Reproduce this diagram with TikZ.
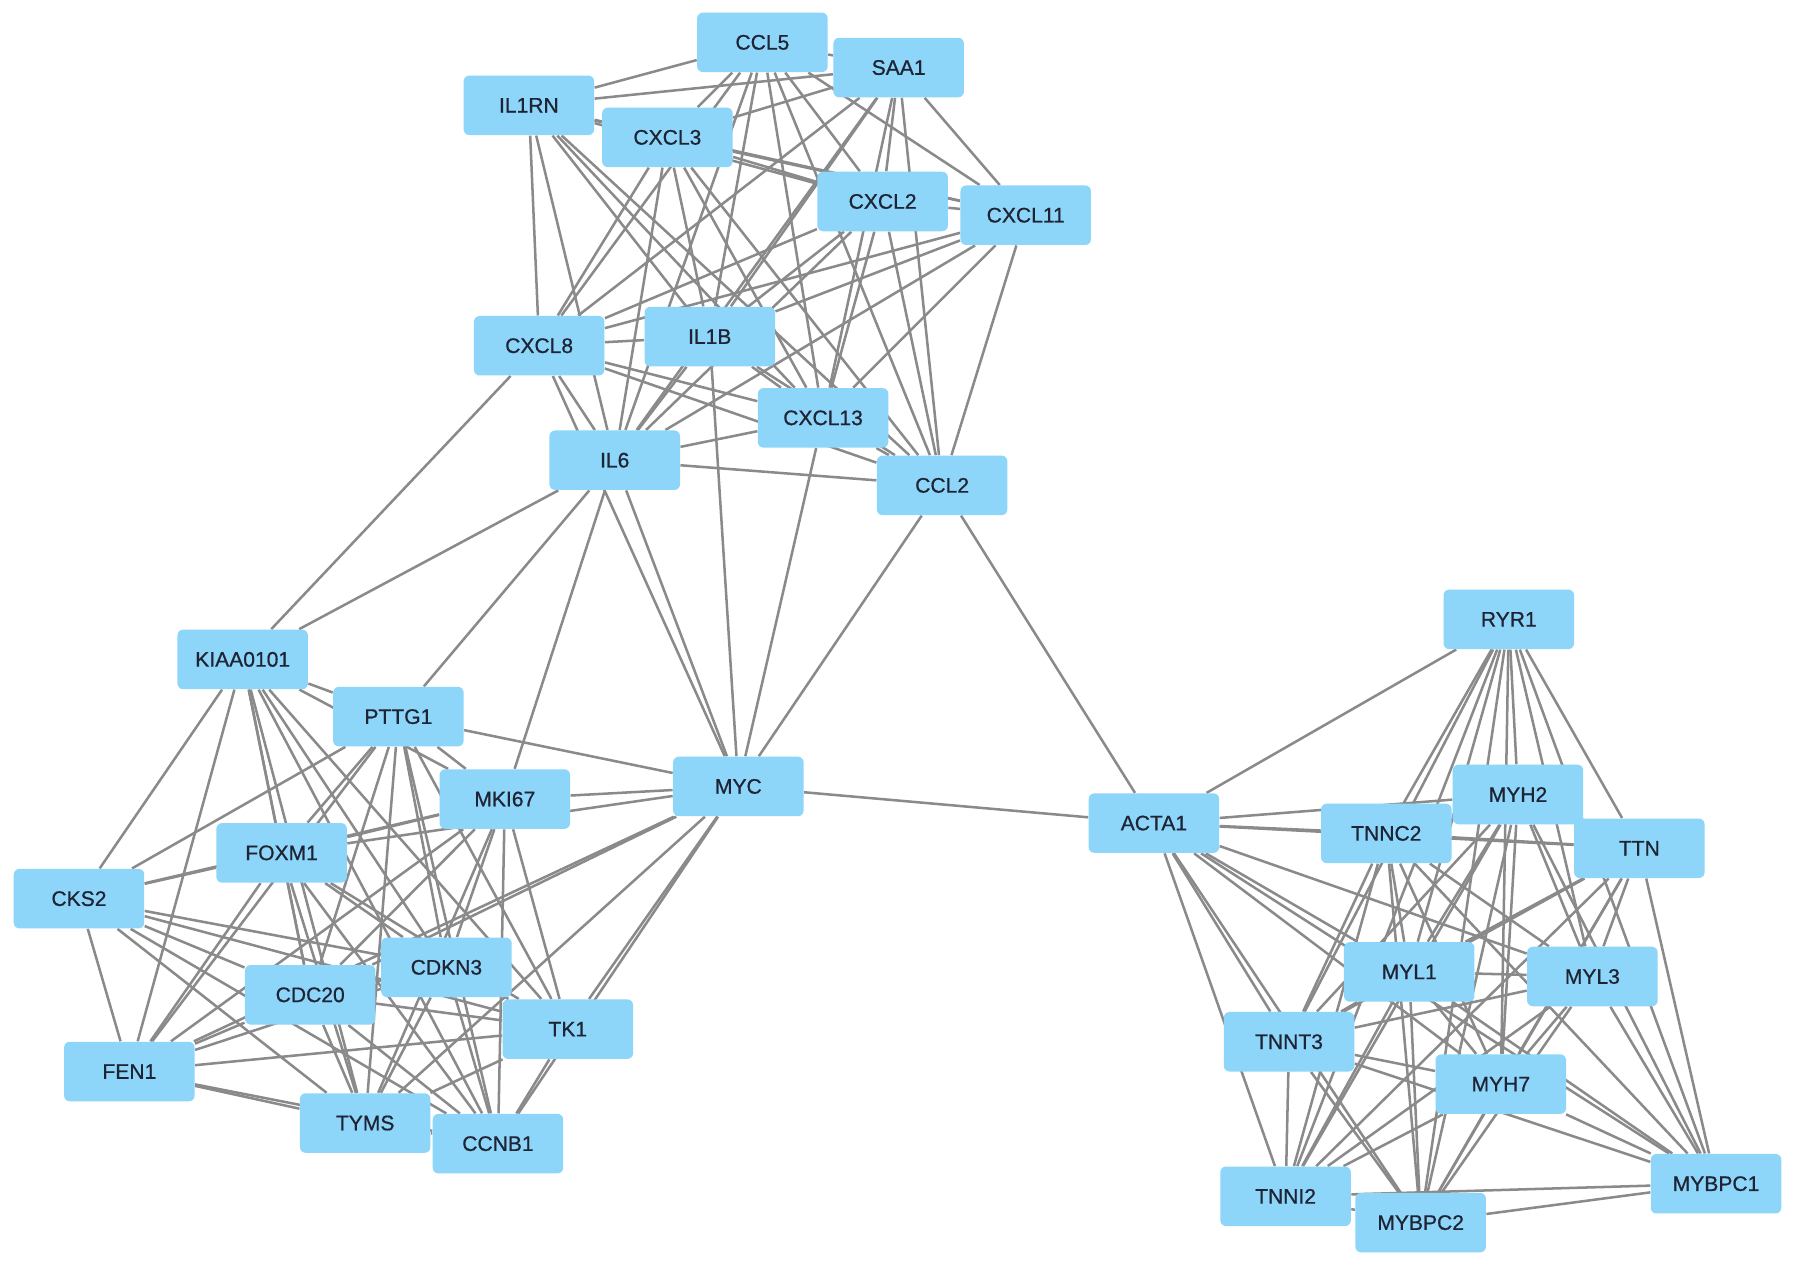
\documentclass[tikz,border=0pt]{standalone}
\usepackage{fontspec}
\newfontfamily\labfont[FakeBold=0.7]{Liberation Sans}
\usetikzlibrary{backgrounds}
\pgfdeclarelayer{edges}
\pgfsetlayers{background,edges,main}
\definecolor{nodeblue}{RGB}{141,213,249}
\definecolor{edgegray}{RGB}{138,138,138}
\definecolor{labtext}{RGB}{30,36,52}
\begin{document}
\begin{tikzpicture}[x=0.5pt,y=-0.5pt,
  gene/.style={rectangle, rounded corners=2.5pt, fill=nodeblue, draw=none,
    minimum width=57pt, minimum height=26pt, inner sep=0pt,
    text=labtext, font=\labfont\fontsize{9.2}{10}\selectfont},
  edge/.style={draw=edgegray, line width=1.1pt}]
\begin{pgfonlayer}{background}
\fill[white] (0,0) rectangle (1568,1109);
\end{pgfonlayer}
\useasboundingbox (0,0) rectangle (1568,1109);
% top cluster
\node[gene] (CCL5) at (666,37) {CCL5};
\node[gene] (SAA1) at (785,59) {SAA1};
\node[gene] (IL1RN) at (462,92) {IL1RN};
\node[gene] (CXCL3) at (583,120) {CXCL3};
\node[gene] (CXCL2) at (771,176) {CXCL2};
\node[gene] (CXCL11) at (896,188) {CXCL11};
\node[gene] (CXCL8) at (471,302) {CXCL8};
\node[gene] (IL1B) at (620,294) {IL1B};
\node[gene] (CXCL13) at (719,365) {CXCL13};
\node[gene] (IL6) at (537,402) {IL6};
\node[gene] (CCL2) at (823,424) {CCL2};
% left cluster
\node[gene] (KIAA0101) at (212,576) {KIAA0101};
\node[gene] (PTTG1) at (348,626) {PTTG1};
\node[gene] (MKI67) at (441,698) {MKI67};
\node[gene] (MYC) at (645,687) {MYC};
\node[gene] (FOXM1) at (246,745) {FOXM1};
\node[gene] (CKS2) at (69,785) {CKS2};
\node[gene] (CDKN3) at (390,845) {CDKN3};
\node[gene] (CDC20) at (271,869) {CDC20};
\node[gene] (TK1) at (496,899) {TK1};
\node[gene] (FEN1) at (113,936) {FEN1};
\node[gene] (TYMS) at (319,981) {TYMS};
\node[gene] (CCNB1) at (435,999) {CCNB1};
% right cluster
\node[gene] (RYR1) at (1318,541) {RYR1};
\node[gene] (ACTA1) at (1008,719) {ACTA1};
\node[gene] (MYH2) at (1326,694) {MYH2};
\node[gene] (TNNC2) at (1211,728) {TNNC2};
\node[gene] (TTN) at (1432,741) {TTN};
\node[gene] (MYL1) at (1231,849) {MYL1};
\node[gene] (MYL3) at (1391,853) {MYL3};
\node[gene] (TNNT3) at (1126,910) {TNNT3};
\node[gene] (MYH7) at (1311,947) {MYH7};
\node[gene] (TNNI2) at (1123,1045) {TNNI2};
\node[gene] (MYBPC2) at (1241,1068) {MYBPC2};
\node[gene] (MYBPC1) at (1499,1034) {MYBPC1};
\begin{pgfonlayer}{edges}
% complete top cluster
\foreach [count=\i] \a in {CCL5,SAA1,IL1RN,CXCL3,CXCL2,CXCL11,CXCL8,IL1B,CXCL13,IL6,CCL2}{
  \foreach [count=\j] \b in {CCL5,SAA1,IL1RN,CXCL3,CXCL2,CXCL11,CXCL8,IL1B,CXCL13,IL6,CCL2}{
    \ifnum\j>\i \draw[edge] (\a) -- (\b); \fi }}
% complete left cluster
\foreach [count=\i] \a in {KIAA0101,PTTG1,MKI67,FOXM1,CKS2,CDKN3,CDC20,TK1,FEN1,TYMS,CCNB1}{
  \foreach [count=\j] \b in {KIAA0101,PTTG1,MKI67,FOXM1,CKS2,CDKN3,CDC20,TK1,FEN1,TYMS,CCNB1}{
    \ifnum\j>\i \draw[edge] (\a) -- (\b); \fi }}
% complete right cluster
\foreach [count=\i] \a in {ACTA1,RYR1,MYH2,TNNC2,TTN,MYL1,MYL3,TNNT3,MYH7,TNNI2,MYBPC2,MYBPC1}{
  \foreach [count=\j] \b in {ACTA1,RYR1,MYH2,TNNC2,TTN,MYL1,MYL3,TNNT3,MYH7,TNNI2,MYBPC2,MYBPC1}{
    \ifnum\j>\i \draw[edge] (\a) -- (\b); \fi }}
% links between clusters
\foreach \a/\b in {CXCL8/KIAA0101, IL6/KIAA0101, IL6/PTTG1, IL6/MKI67, IL6/MYC,
  CXCL8/MYC, IL1B/MYC, CXCL13/MYC, CCL2/MYC, CCL2/ACTA1, MYC/ACTA1,
  MYC/PTTG1, MYC/MKI67, MYC/FOXM1, MYC/CDC20, MYC/FEN1, MYC/TYMS, MYC/TK1, MYC/CCNB1}
  \draw[edge] (\a) -- (\b);
\end{pgfonlayer}
\end{tikzpicture}
\end{document}
